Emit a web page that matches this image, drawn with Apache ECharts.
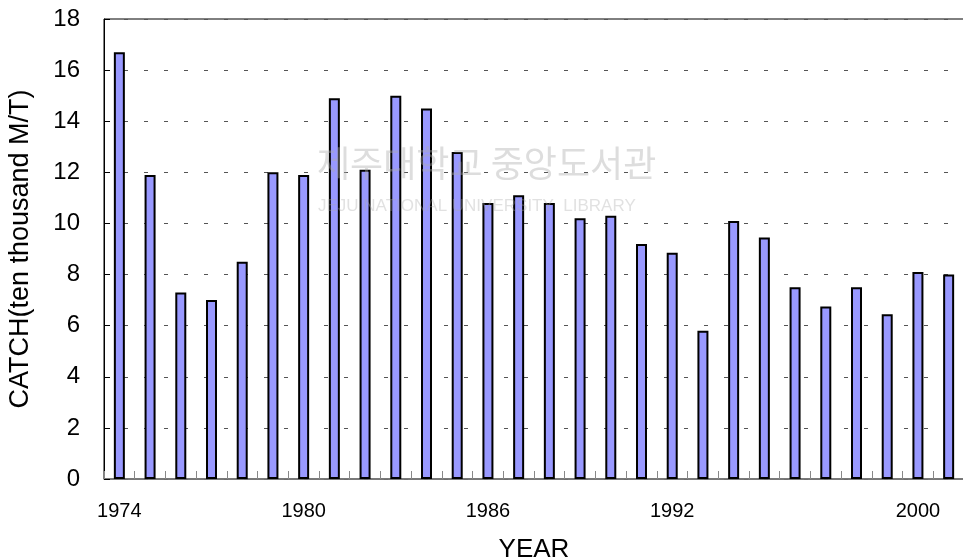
<!DOCTYPE html>
<html>
<head>
<meta charset="utf-8">
<script src="https://cdn.jsdelivr.net/npm/echarts@6/dist/echarts.min.js"></script>
<style>
  html, body { margin: 0; padding: 0; background: #fff; }
  #chart { width: 963px; height: 560px; }
</style>
</head>
<body>
<div id="chart"></div>
<script>
// Annual catch, 1974–2001 (ten thousand M/T)
const years = ['1974', '1975', '1976', '1977', '1978', '1979', '1980', '1981', '1982', '1983',
  '1984', '1985', '1986', '1987', '1988', '1989', '1990', '1991', '1992', '1993',
  '1994', '1995', '1996', '1997', '1998', '1999', '2000', '2001']
const catchValues = [16.7, 11.9, 7.3, 7.0, 8.5, 12.0, 11.9, 14.9, 12.1, 15.0,
  14.5, 12.8, 10.8, 11.1, 10.8, 10.2, 10.3, 9.2, 8.85, 5.8,
  10.1, 9.45, 7.5, 6.75, 7.5, 6.45, 8.1, 8.0]
const labeledYears = ['1974', '1980', '1986', '1992', '2000']
const yTicks = [0, 2, 4, 6, 8, 10, 12, 14, 16, 18]

const font = 'Liberation Sans, Arial, sans-serif'
const chart = echarts.init(document.getElementById('chart'), null, { renderer: 'canvas' })

chart.setOption({
  backgroundColor: '#ffffff',
  animation: false,
  grid: {
    left: 104, right: -1, top: 19, bottom: 81,
    outerBoundsMode: 'none', containLabel: false,
    show: true, borderColor: '#000', borderWidth: 1,
  },
  xAxis: {
    type: 'category',
    data: years,
    name: 'YEAR',
    nameLocation: 'middle',
    nameGap: 58,
    nameTextStyle: { color: '#000', fontSize: 26, fontFamily: font },
    axisLine: { lineStyle: { color: '#777', width: 1.5 } },
    axisTick: { show: true, inside: true, interval: 0, length: 8, lineStyle: { color: '#888' } },
    axisLabel: {
      interval: (i, v) => labeledYears.includes(v),
      color: '#000', fontSize: 20, fontFamily: font, margin: 22,
    },
  },
  yAxis: {
    type: 'value',
    min: yTicks[0],
    max: yTicks[yTicks.length - 1],
    interval: 2,
    name: 'CATCH(ten thousand M/T)',
    nameLocation: 'middle',
    nameGap: 70,
    nameTextStyle: { color: '#000', fontSize: 27, fontFamily: font },
    axisLine: { show: true, lineStyle: { color: '#000', width: 1 } },
    axisTick: { show: true, inside: true, length: 6, lineStyle: { color: '#000' } },
    axisLabel: { color: '#000', fontSize: 24, fontFamily: font, margin: 24 },
    splitLine: { lineStyle: { color: '#555', type: [4, 16], width: 1 } },
  },
  graphic: [
    {
      type: 'text', left: 317, top: 145, z: 100, silent: true,
      style: { text: '제주대학교 중앙도서관', fontSize: 36, fontFamily: 'Noto Sans CJK KR', fill: 'rgba(170,170,170,0.4)' },
    },
    {
      type: 'text', left: 318, top: 198, z: 100, silent: true,
      style: { text: 'JEJU NATIONAL UNIVERSITY  LIBRARY', fontSize: 17, fontFamily: font, fill: 'rgba(170,170,170,0.35)' },
    },
  ],
  series: [
    {
      name: 'CATCH',
      type: 'bar',
      data: catchValues,
      barWidth: 11,
      itemStyle: { color: '#9999ff', borderColor: '#000', borderWidth: 2 },
    },
  ],
})
</script>
</body>
</html>
